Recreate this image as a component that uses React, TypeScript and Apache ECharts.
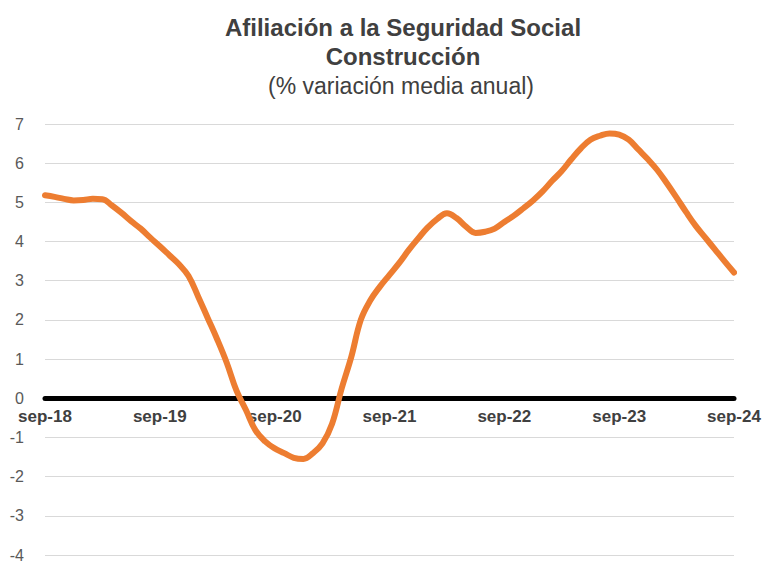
import React, { useEffect, useRef } from "react";
import * as echarts from "echarts";

const MONTHS = ["sep", "oct", "nov", "dic", "ene", "feb", "mar", "abr", "may", "jun", "jul", "ago"];

// Monthly categories sep-18 .. sep-24
const categories: string[] = [];
for (let i = 0; i <= 72; i++) {
  const m = MONTHS[i % 12];
  const yr = 18 + Math.floor((i + 8) / 12);
  categories.push(`${m}-${yr}`);
}

const afiliacion = [
  5.18, 5.14, 5.09, 5.05, 5.06, 5.09, 5.08, 4.92, 4.73, 4.52, 4.33, 4.1,
  3.88, 3.65, 3.42, 3.12, 2.6, 2.05, 1.5, 0.9, 0.2, -0.3, -0.82, -1.1,
  -1.28, -1.4, -1.52, -1.55, -1.4, -1.15, -0.65, 0.25, 1.05, 2.0, 2.5, 2.85,
  3.15, 3.45, 3.78, 4.08, 4.36, 4.58, 4.72, 4.6, 4.38, 4.22, 4.25, 4.33,
  4.5, 4.66, 4.85, 5.05, 5.28, 5.55, 5.8, 6.1, 6.38, 6.6, 6.7, 6.76,
  6.73, 6.6, 6.35, 6.1, 5.82, 5.48, 5.12, 4.75, 4.4, 4.1, 3.8, 3.5, 3.21,
];

const yMin = -4;
const yMax = 7;

const titleLine1 = "Afiliación a la Seguridad Social";
const titleLine2 = "Construcción";
const subtitle = "(% variación media anual)";

export default function App() {
  const ref = useRef<HTMLDivElement>(null);
  useEffect(() => {
    if (!ref.current) return;
    const chart = echarts.init(ref.current, undefined, { renderer: "svg" });
    const font = "Liberation Sans, Arial, sans-serif";
    const gridTop = 124;
    const gridBottom = 8;
    const plotH = 563 - gridTop - gridBottom;
    const zeroOffset = -Math.round((plotH * (0 - yMin)) / (yMax - yMin));
    chart.setOption({
      animation: false,
      backgroundColor: "#ffffff",
      title: [
        {
          text: titleLine1,
          left: 398,
          top: 10,
          textAlign: "center",
          textStyle: { fontFamily: font, fontSize: 24, fontWeight: "bold", color: "#404040" },
        },
        {
          text: titleLine2,
          left: 398,
          top: 39,
          textAlign: "center",
          textStyle: { fontFamily: font, fontSize: 24, fontWeight: "bold", color: "#404040" },
        },
        {
          text: subtitle,
          left: 396,
          top: 69,
          textAlign: "center",
          textStyle: { fontFamily: font, fontSize: 23, fontWeight: "normal", color: "#404040" },
        },
      ],
      grid: { left: 45, right: 30, top: gridTop, bottom: gridBottom, containLabel: false },
      xAxis: {
        type: "category",
        data: categories,
        boundaryGap: false,
        offset: zeroOffset,
        axisLine: { show: true, onZero: false, lineStyle: { color: "#000000", width: 5 } },
        axisTick: { show: false },
        axisLabel: {
          interval: 11,
          margin: 10,
          fontFamily: font,
          fontSize: 17,
          fontWeight: "bold",
          color: "#404040",
          showMaxLabel: true,
        },
        splitLine: { show: false },
      },
      yAxis: {
        type: "value",
        min: yMin,
        max: yMax,
        interval: 1,
        axisLine: { show: false },
        axisTick: { show: false },
        axisLabel: { fontFamily: font, fontSize: 16, color: "#595959", margin: 21 },
        splitLine: { show: true, lineStyle: { color: "#d9d9d9", width: 1 } },
      },
      series: [
        {
          type: "line",
          data: afiliacion,
          smooth: 0.4,
          showSymbol: false,
          symbol: "none",
          z: 3,
          lineStyle: { color: "#ED7D31", width: 6, cap: "round", join: "round" },
        },
      ],
    });
    return () => chart.dispose();
  }, []);
  return (
    <div
      ref={ref}
      style={{ position: "fixed", left: 0, top: 0, width: 764, height: 563 }}
    />
  );
}
